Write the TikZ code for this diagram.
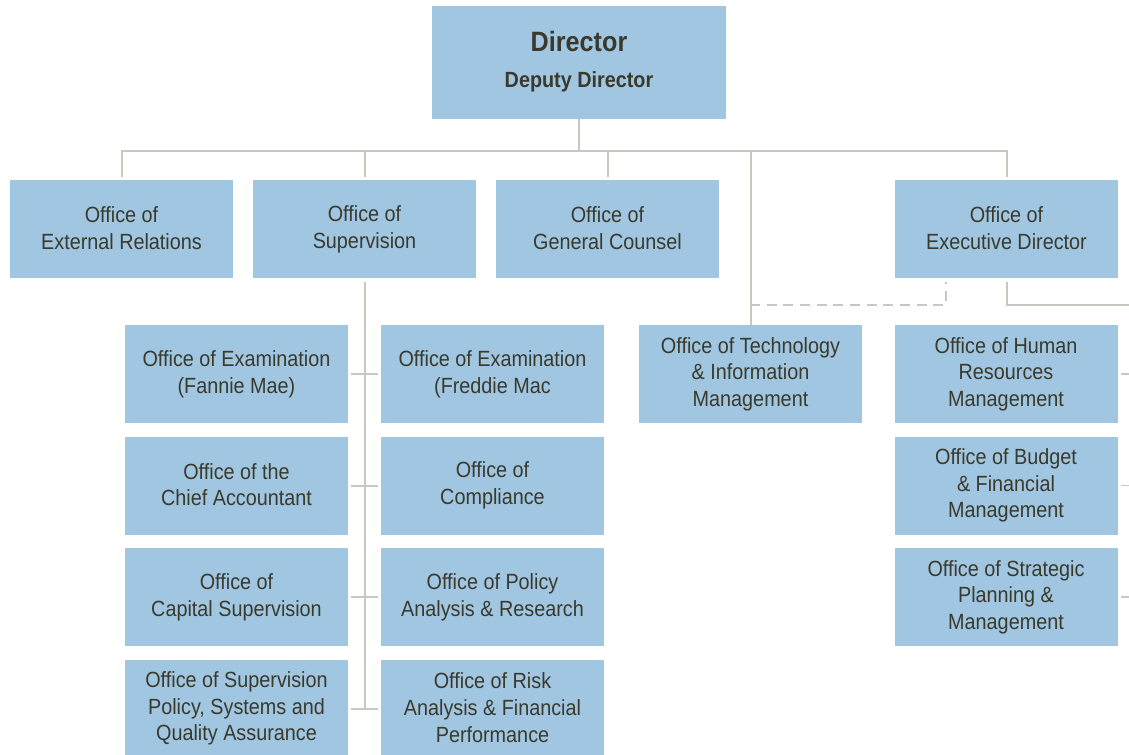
\documentclass[tikz,border=0pt]{standalone}
\usepackage{fontspec}
\setmainfont[FakeStretch=0.9]{Liberation Sans}
\definecolor{boxblue}{HTML}{A1C6E1}
\definecolor{linegray}{HTML}{CBC7C0}
\definecolor{textdark}{HTML}{3A3A2C}
\begin{document}
\begin{tikzpicture}[x=0.75pt,y=-0.75pt,
    office/.style={fill=boxblue, minimum width=167.25pt, minimum height=73.5pt,
                   align=center, text=textdark, inner sep=2pt,
                   font=\fontsize{16.5}{20}\selectfont,
                   execute at begin node={\rule{0pt}{21.5pt}},
                   execute at end node={\rule[-1.5pt]{0pt}{1.5pt}}},
    link/.style={draw=linegray, line width=1.5pt},
    tick/.style={draw=linegray, line width=1.2pt}]
    \def\ry{374} % y of first sub-office row
    \def\rs{111.5} % row spacing
    \useasboundingbox (0,0) rectangle (1129,754);

    % top box
    \node [office, minimum width=220.5pt, minimum height=84.75pt,
           font=\bfseries\fontsize{16.5}{20}\selectfont,
           execute at begin node={\rule{0pt}{15.5pt}},
           execute at end node={\rule[-4.5pt]{0pt}{4.5pt}}] (dir) at (579,62.5)
        {{\fontsize{21}{24}\selectfont Director}\\[6.5pt]Deputy Director};

    % first level
    \node [office] (ext) at (121.5,229) {Office of\\External Relations};
    \node [office] (sup) at (364.5,229) {Office of\\Supervision};
    \node [office] (gc) at (607.5,229) {Office of\\General Counsel};
    \node [office] (exec) at (1006.5,229) {Office of\\Executive Director};
    \node [office] (tech) at (750.5,374) {Office of Technology\\\& Information\\Management};

    % offices under supervision
    \foreach \t [count=\i] in {{Office of Examination\\(Fannie Mae)},
                               {Office of the\\Chief Accountant},
                               {Office of\\Capital Supervision},
                               {Office of Supervision\\Policy, Systems and\\Quality Assurance}}
        \node [office] (subL\i) at (236.5, \ry + \i*\rs - \rs) {\t};
    \foreach \t [count=\i] in {{Office of Examination\\(Freddie Mac},
                               {Office of\\Compliance},
                               {Office of Policy\\Analysis \& Research},
                               {Office of Risk\\Analysis \& Financial\\Performance}}
        \node [office] (subR\i) at (492.5, \ry + \i*\rs - \rs) {\t};

    % offices under executive director
    \foreach \t [count=\i] in {{Office of Human\\Resources\\Management},
                               {Office of Budget\\\& Financial\\Management},
                               {Office of Strategic\\Planning \&\\Management}}
        \node [office] (hr\i) at (1006, \ry + \i*\rs - \rs) {\t};

    % bus under the director
    \coordinate (bus) at (579,151);
    \coordinate (elbow) at (750,305);
    \coordinate (rim) at (1129,305);
    \draw [link] (dir.south) -- (bus);
    \draw [link, shorten >=2pt] (bus) -| (ext.north);
    \draw [link, shorten >=2pt] (bus) -| (exec.north);
    \draw [link, shorten >=2pt] (sup.north |- bus) -- (sup.north);
    \draw [link, shorten >=2pt] (gc.north |- bus) -- (gc.north);
    \draw [link] (tech.north |- bus) -- (tech.north);

    % supervision spine and ticks
    \draw [link, shorten <=3pt] (sup.south) -- (sup.south |- subL4.east);
    \foreach \i in {1,2,3,4}
        \draw [link] ([xshift=2.25pt]subL\i.east) -- ([xshift=-2.25pt]subR\i.west);

    % executive director links
    \draw [link, dashed, dash pattern=on 7.5pt off 5pt, shorten >=3pt]
        (elbow) -| ([xshift=38.25pt]exec.south west);
    \draw [link, shorten <=3pt] (exec.south) |- (rim);
    \foreach \i in {1,2,3}
        \draw [tick] ([xshift=2.25pt]hr\i.east) -- ++(9,0);
\end{tikzpicture}
\end{document}
